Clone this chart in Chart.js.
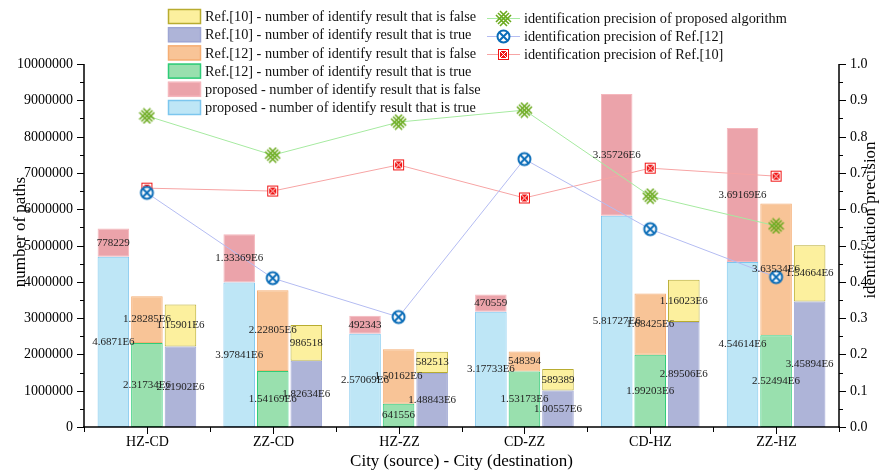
<!DOCTYPE html>
<html>
<head>
<meta charset="utf-8">
<script src="https://cdn.jsdelivr.net/npm/chart.js@4.4.1/dist/chart.umd.min.js"></script>
<style>
  html, body { margin: 0; padding: 0; background: #fff; }
  #wrap { width: 883px; height: 470px; position: relative; }
</style>
</head>
<body>
<div id="wrap"><canvas id="chart" width="883" height="470"></canvas></div>
<script>
// --- Data ---
const categories = ['HZ-CD', 'ZZ-CD', 'HZ-ZZ', 'CD-ZZ', 'CD-HZ', 'ZZ-HZ'];

const proposedTrue  = [4687100, 3978410, 2570690, 3177330, 5817270, 4546140];
const proposedFalse = [778229, 1333690, 492343, 470559, 3357260, 3691690];
const ref12True     = [2317340, 1541690, 641556, 1531730, 1992030, 2524940];
const ref12False    = [1282850, 2228050, 1501620, 548394, 1684250, 3635340];
const ref10True     = [2219020, 1826340, 1488430, 1005570, 2895060, 3458940];
const ref10False    = [1159010, 986518, 582513, 589389, 1160230, 1546640];

const precProposed = [0.857, 0.749, 0.840, 0.873, 0.636, 0.554];
const precRef12    = [0.645, 0.410, 0.303, 0.738, 0.545, 0.413];
const precRef10    = [0.658, 0.650, 0.722, 0.631, 0.713, 0.691];

const leftTicks  = [0, 1000000, 2000000, 3000000, 4000000, 5000000, 6000000, 7000000, 8000000, 9000000, 10000000];
const rightTicks = [0, 0.1, 0.2, 0.3, 0.4, 0.5, 0.6, 0.7, 0.8, 0.9, 1.0];

const SERIF = "'Liberation Serif', 'DejaVu Serif', serif";

// --- Marker images ---
function makeMarker(kind) {
  const c = document.createElement('canvas');
  c.width = 17; c.height = 17;
  const g = c.getContext('2d');
  if (kind === 'green') {
    g.strokeStyle = '#6aa91c';
    g.lineWidth = 1.6;
    g.beginPath();
    g.moveTo(1, 5); g.lineTo(12, 16);
    g.moveTo(5, 1); g.lineTo(16, 12);
    g.moveTo(1, 12); g.lineTo(12, 1);
    g.moveTo(5, 16); g.lineTo(16, 5);
    g.moveTo(3, 3); g.lineTo(14, 14);
    g.moveTo(14, 3); g.lineTo(3, 14);
    g.stroke();
  } else if (kind === 'blue') {
    g.strokeStyle = '#0b6db8';
    g.fillStyle = '#fff';
    g.lineWidth = 2;
    g.beginPath(); g.arc(8.5, 8.5, 6, 0, Math.PI * 2); g.fill(); g.stroke();
    g.beginPath();
    g.moveTo(4.3, 4.3); g.lineTo(12.7, 12.7);
    g.moveTo(12.7, 4.3); g.lineTo(4.3, 12.7);
    g.stroke();
  } else {
    g.fillStyle = '#f01414';
    g.fillRect(3, 3, 11, 11);
    g.strokeStyle = '#fff';
    g.lineWidth = 1;
    g.strokeRect(4.5, 4.5, 8, 8);
    g.beginPath();
    g.moveTo(5, 5); g.lineTo(12, 12);
    g.moveTo(12, 5); g.lineTo(5, 12);
    g.stroke();
  }
  return c;
}
const markerGreen = makeMarker('green');
const markerBlue = makeMarker('blue');
const markerRed = makeMarker('red');

function fmt(v) {
  if (v < 1000000) return String(v);
  let s = (v / 1000000).toPrecision(6);
  s = s.replace(/0+$/, '').replace(/\.$/, '');
  return s + 'E6';
}

const barStyles = {
  pT: { bg: '#bee6f6', bd: '#7cc6ee' },
  pF: { bg: '#eba3aa', bd: '#f5b7bd' },
  r12T: { bg: '#99e0ae', bd: '#2fcc78' },
  r12F: { bg: '#f8c497', bd: '#f5ae74' },
  r10T: { bg: '#aeb4d8', bd: '#9ea6d4' },
  r10F: { bg: '#fcf09e', bd: '#b8ac30' }
};

function barSet(label, data, st, stack) {
  return {
    type: 'bar', label: label, data: data, stack: stack, yAxisID: 'y',
    backgroundColor: st.bg, borderColor: st.bd, borderWidth: 1, borderSkipped: false,
    categoryPercentage: 0.8, barPercentage: 0.94, order: 1
  };
}
function lineSet(label, data, color, marker) {
  return {
    type: 'line', label: label, data: data, yAxisID: 'y1',
    borderColor: color, borderWidth: 1, pointStyle: marker, pointRadius: 8,
    fill: false, tension: 0, order: 0
  };
}

const datasets = [
  barSet('proposed - number of identify result that is true', proposedTrue, barStyles.pT, 'p'),
  barSet('proposed - number of identify result that is false', proposedFalse, barStyles.pF, 'p'),
  barSet('Ref.[12] - number of identify result that is true', ref12True, barStyles.r12T, 'r12'),
  barSet('Ref.[12] - number of identify result that is false', ref12False, barStyles.r12F, 'r12'),
  barSet('Ref.[10] - number of identify result that is true', ref10True, barStyles.r10T, 'r10'),
  barSet('Ref.[10] - number of identify result that is false', ref10False, barStyles.r10F, 'r10'),
  lineSet('identification precision of proposed algorithm', precProposed, '#a6eaa0', markerGreen),
  lineSet('identification precision of Ref.[12]', precRef12, '#b4bcf2', markerBlue),
  lineSet('identification precision of Ref.[10]', precRef10, '#f7a4a4', markerRed)
];

// --- Custom drawing: labels, axes, legend ---
const customDraw = {
  id: 'customDraw',
  afterDatasetsDraw(chart) {
    const ctx = chart.ctx;
    ctx.save();
    ctx.font = '11px ' + SERIF;
    ctx.fillStyle = '#222';
    ctx.textAlign = 'center';
    ctx.textBaseline = 'middle';
    for (let d = 0; d < 6; d++) {
      const meta = chart.getDatasetMeta(d);
      meta.data.forEach((el, i) => {
        const yc = (el.y + el.base) / 2;
        ctx.fillText(fmt(chart.data.datasets[d].data[i]), el.x, yc);
      });
    }
    ctx.restore();
  },
  afterDraw(chart) {
    const ctx = chart.ctx;
    const a = chart.chartArea;
    const ys = chart.scales.y, y1 = chart.scales.y1, xs = chart.scales.x;
    ctx.save();
    ctx.strokeStyle = '#000';
    ctx.fillStyle = '#000';
    ctx.lineWidth = 1.5;
    // axis lines
    ctx.beginPath();
    ctx.moveTo(a.left, a.top); ctx.lineTo(a.left, a.bottom + 1);
    ctx.moveTo(a.right, a.top); ctx.lineTo(a.right, a.bottom + 1);
    ctx.moveTo(a.left - 1, a.bottom); ctx.lineTo(a.right + 1, a.bottom);
    ctx.stroke();
    ctx.lineWidth = 1;
    // left ticks
    ctx.font = '14px ' + SERIF;
    ctx.textAlign = 'right';
    ctx.textBaseline = 'middle';
    leftTicks.forEach((t, i) => {
      const py = Math.round(ys.getPixelForValue(t)) + 0.5;
      ctx.beginPath(); ctx.moveTo(a.left - 7, py); ctx.lineTo(a.left, py); ctx.stroke();
      ctx.fillText(String(t), a.left - 11, py);
      if (i < leftTicks.length - 1) {
        const my = Math.round(ys.getPixelForValue(t + 500000)) + 0.5;
        ctx.beginPath(); ctx.moveTo(a.left - 4, my); ctx.lineTo(a.left, my); ctx.stroke();
      }
    });
    // right ticks
    ctx.textAlign = 'left';
    rightTicks.forEach((t, i) => {
      const py = Math.round(y1.getPixelForValue(t)) + 0.5;
      ctx.beginPath(); ctx.moveTo(a.right, py); ctx.lineTo(a.right + 7, py); ctx.stroke();
      ctx.fillText(t.toFixed(1), a.right + 11, py);
      if (i < rightTicks.length - 1) {
        const my = Math.round(y1.getPixelForValue(t + 0.05)) + 0.5;
        ctx.beginPath(); ctx.moveTo(a.right, my); ctx.lineTo(a.right + 4, my); ctx.stroke();
      }
    });
    // x ticks and labels
    ctx.textAlign = 'center';
    ctx.textBaseline = 'middle';
    const step = (a.right - a.left) / categories.length;
    for (let i = 0; i <= categories.length; i++) {
      const bx = Math.round(a.left + i * step) + 0.5;
      ctx.beginPath(); ctx.moveTo(bx, a.bottom); ctx.lineTo(bx, a.bottom + 5); ctx.stroke();
    }
    categories.forEach((c, i) => {
      const cx = Math.round(xs.getPixelForValue(i)) + 0.5;
      ctx.beginPath(); ctx.moveTo(cx, a.bottom); ctx.lineTo(cx, a.bottom + 7); ctx.stroke();
      ctx.fillText(c, cx, a.bottom + 15);
    });
    // axis titles
    ctx.font = '17px ' + SERIF;
    ctx.fillText('City (source) - City (destination)', (a.left + a.right) / 2, a.bottom + 35);
    ctx.save();
    ctx.translate(21, 232);
    ctx.rotate(-Math.PI / 2);
    ctx.fillText('number of paths', 0, 0);
    ctx.restore();
    ctx.save();
    ctx.translate(871, 220);
    ctx.rotate(-Math.PI / 2);
    ctx.fillText('identification precision', 0, 0);
    ctx.restore();

    // legend: bars
    const barLegend = [
      ['Ref.[10] - number of identify result that is false', barStyles.r10F],
      ['Ref.[10] - number of identify result that is true', barStyles.r10T],
      ['Ref.[12] - number of identify result that is false', barStyles.r12F],
      ['Ref.[12] - number of identify result that is true', barStyles.r12T],
      ['proposed - number of identify result that is false', barStyles.pF],
      ['proposed - number of identify result that is true', barStyles.pT]
    ];
    ctx.font = '14.3px ' + SERIF;
    ctx.textAlign = 'left';
    barLegend.forEach((b, i) => {
      const cy = 16.5 + i * 18.2;
      ctx.fillStyle = b[1].bg;
      ctx.fillRect(168, cy - 7.5, 33, 15);
      ctx.strokeStyle = b[1].bd;
      ctx.lineWidth = 1.5;
      ctx.strokeRect(168.5, cy - 7, 32, 14);
      ctx.fillStyle = '#111';
      ctx.fillText(b[0], 205, cy + 1);
    });
    // legend: lines
    const lineLegend = [
      ['identification precision of proposed algorithm', '#a6eaa0', markerGreen],
      ['identification precision of Ref.[12]', '#b4bcf2', markerBlue],
      ['identification precision of Ref.[10]', '#f7a4a4', markerRed]
    ];
    lineLegend.forEach((l, i) => {
      const cy = 18 + i * 18;
      ctx.strokeStyle = l[1];
      ctx.lineWidth = 1;
      ctx.beginPath(); ctx.moveTo(487, cy + 0.5); ctx.lineTo(520, cy + 0.5); ctx.stroke();
      ctx.drawImage(l[2], 495, cy - 8);
      ctx.fillStyle = '#111';
      ctx.fillText(l[0], 524, cy + 1);
    });
    ctx.restore();
  }
};

new Chart(document.getElementById('chart'), {
  data: { labels: categories, datasets: datasets },
  options: {
    responsive: false,
    animation: false,
    layout: { padding: { top: 64, left: 0, right: 0, bottom: 0 } },
    plugins: { legend: { display: false }, tooltip: { enabled: false } },
    scales: {
      x: {
        stacked: true,
        grid: { display: false }, border: { display: false },
        ticks: { display: false },
        afterFit: (s) => { s.height = 43; }
      },
      y: {
        stacked: true, position: 'left', min: 0, max: 10000000,
        grid: { display: false }, border: { display: false },
        ticks: { display: false },
        afterFit: (s) => { s.width = 84; }
      },
      y1: {
        position: 'right', min: 0, max: 1,
        grid: { display: false }, border: { display: false },
        ticks: { display: false },
        afterFit: (s) => { s.width = 44; }
      }
    }
  },
  plugins: [customDraw]
});
</script>
</body>
</html>
